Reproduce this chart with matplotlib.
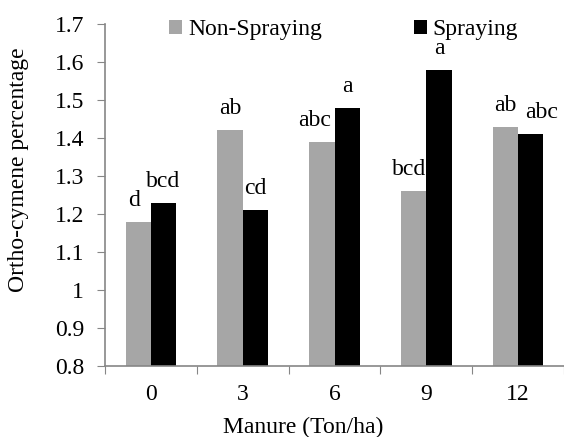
import matplotlib
matplotlib.use("Agg")
import matplotlib.pyplot as plt
import numpy as np
from matplotlib.ticker import FixedLocator, NullFormatter

categories = ["0", "3", "6", "9", "12"]
non_spraying = [1.18, 1.42, 1.39, 1.26, 1.43]
spraying = [1.23, 1.21, 1.48, 1.58, 1.41]
ns_letters = ["d", "ab", "abc", "bcd", "ab"]
sp_letters = ["bcd", "cd", "a", "a", "abc"]
yticks = [0.8, 0.9, 1.0, 1.1, 1.2, 1.3, 1.4, 1.5, 1.6, 1.7]
ytick_labels = ["0.8", "0.9", "1", "1.1", "1.2", "1.3", "1.4", "1.5", "1.6", "1.7"]

# label nudges (points) to mimic the reference's label placement
ns_dx = [-3, 0, -5, -3, 0]
sp_dx = [0, 0, 0, 0, 8]

plt.rcParams['font.family'] = ['Liberation Serif', 'DejaVu Serif']
fs = 17

fig = plt.figure(figsize=(5.64, 4.37), dpi=100)
ax = fig.add_axes([105/564, 1-366/437, 459/564, 342/437])

x = np.arange(len(categories))
w = 0.275
b1 = ax.bar(x - w/2, non_spraying, w, color="#A6A6A6", label="Non-Spraying", zorder=2)
b2 = ax.bar(x + w/2, spraying, w, color="#000000", label="Spraying", zorder=2)

for rects, labs, dxs in ((b1, ns_letters, ns_dx), (b2, sp_letters, sp_dx)):
    for rect, lab, dx in zip(rects, labs, dxs):
        ax.annotate(lab, (rect.get_x() + rect.get_width()/2, rect.get_height()),
                    xytext=(dx, 11.5), textcoords="offset points",
                    ha="center", va="baseline", fontsize=fs, zorder=3)

ax.set_ylim(0.8, 1.7)
ax.set_xlim(-0.5, len(categories) - 0.5)
ax.set_yticks(yticks)
ax.set_yticklabels(ytick_labels, fontsize=fs)

ax.xaxis.set_major_locator(FixedLocator(np.arange(-0.5, len(categories), 1.0)))
ax.xaxis.set_major_formatter(NullFormatter())
ax.xaxis.set_minor_locator(FixedLocator(x))
ax.set_xticklabels(categories, minor=True, fontsize=fs)
ax.tick_params(axis="x", which="major", length=6, color="#868686", direction="out")
ax.tick_params(axis="x", which="minor", length=0, pad=13)
ax.tick_params(axis="y", length=6, color="#868686", direction="out", pad=9)

for s in ["top", "right"]:
    ax.spines[s].set_visible(False)
for s in ["left", "bottom"]:
    ax.spines[s].set_color("#868686")
    ax.spines[s].set_linewidth(1.2)

fig.text(19/564, 1-170/437, "Ortho-cymene percentage", rotation=90,
         ha="center", va="center", fontsize=fs)
fig.text(303/564, 1-427/437, "Manure (Ton/ha)", ha="center", va="center", fontsize=fs)

leg = fig.legend(handles=[b1, b2], labels=["Non-Spraying", "Spraying"],
                 loc="center left", bbox_to_anchor=(169/564, 1-30/437),
                 bbox_transform=fig.transFigure, ncol=2, frameon=False,
                 fontsize=fs, handlelength=0.55, handleheight=0.55, handletextpad=0.25,
                 columnspacing=3.9, borderpad=0, borderaxespad=0)

fig.savefig("out.png", dpi=100)
